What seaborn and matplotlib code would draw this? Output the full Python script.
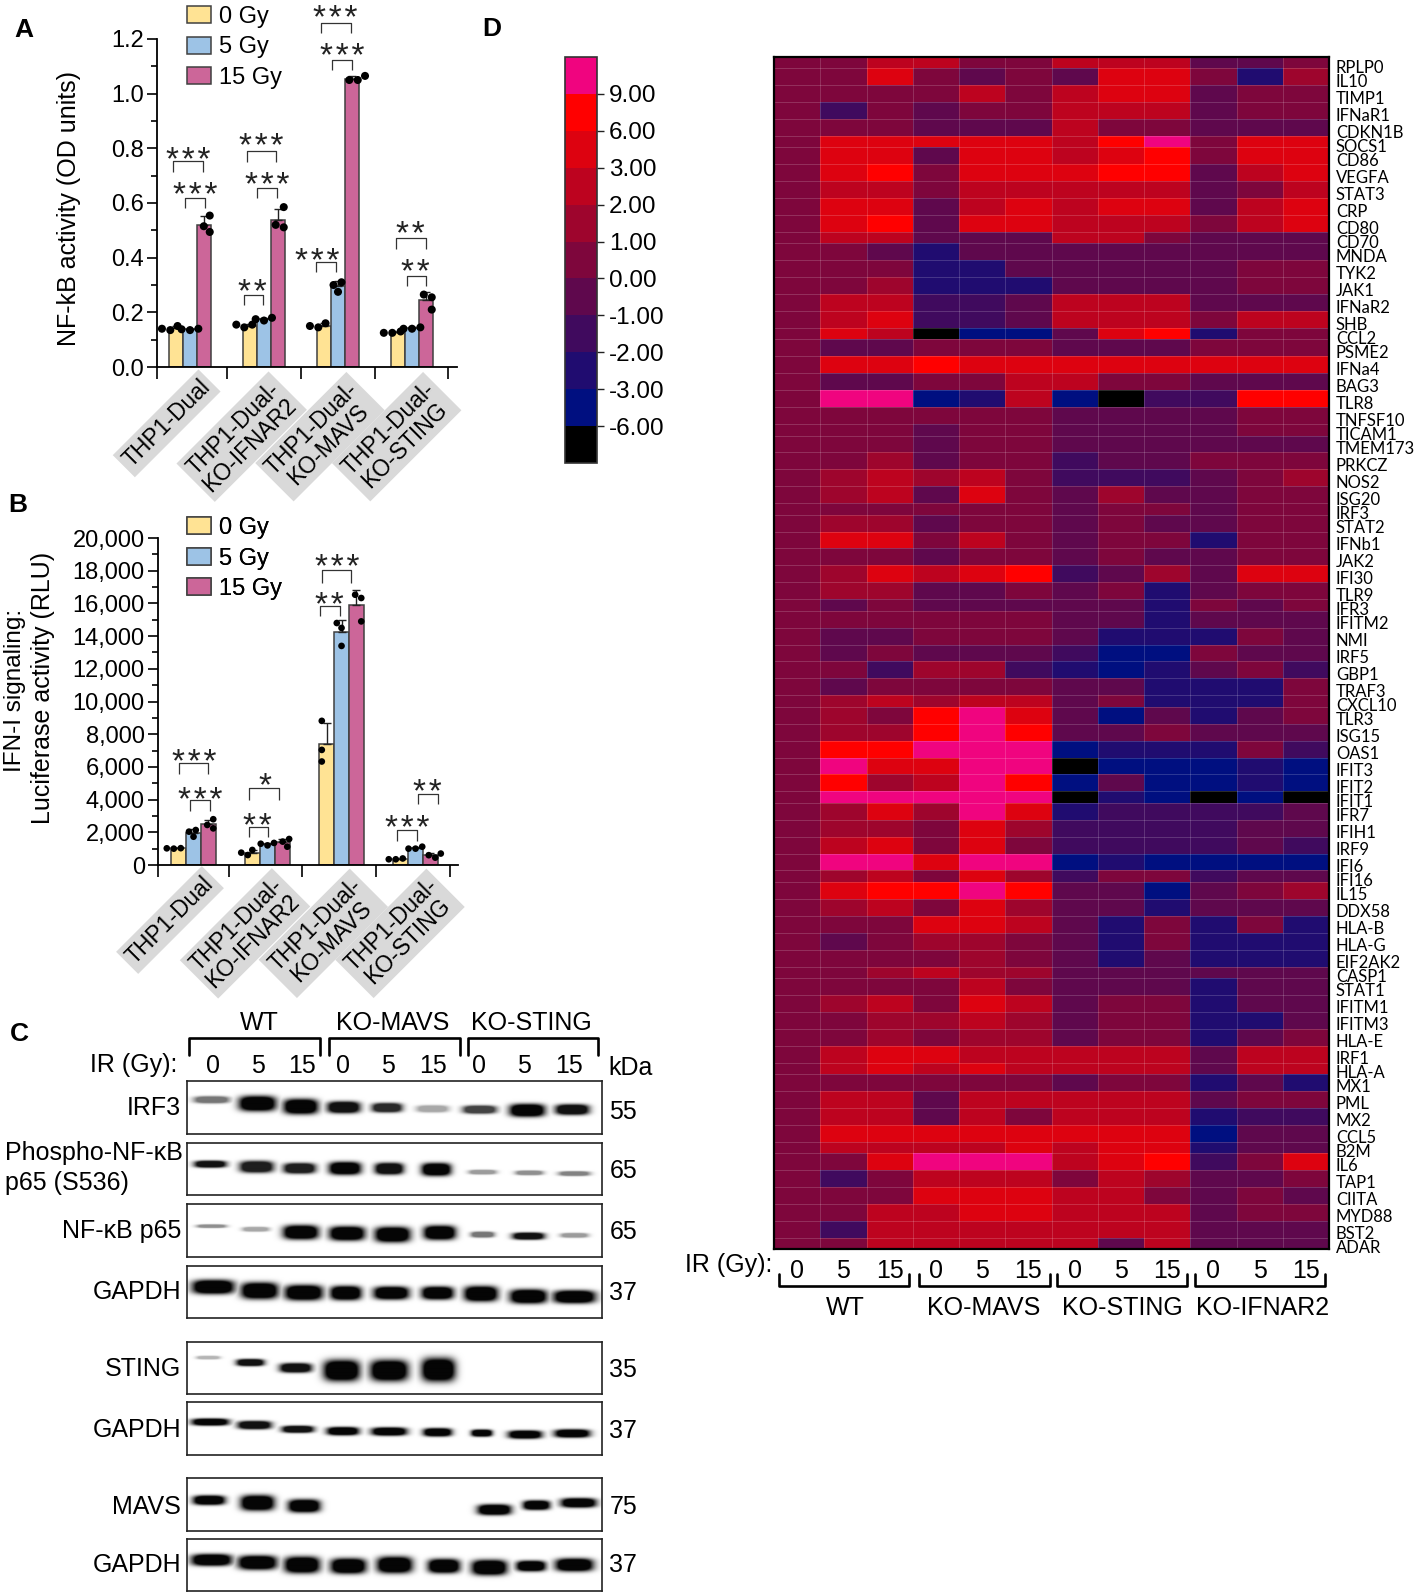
import numpy as np
import pandas as pd
import matplotlib
matplotlib.use("Agg")
import matplotlib.pyplot as plt
from matplotlib.colors import ListedColormap, BoundaryNorm
from matplotlib.ticker import MultipleLocator, FuncFormatter
from matplotlib.transforms import ScaledTranslation
import seaborn as sns

W, H = 1417, 1595
sns.set_theme(style="ticks")
plt.rcParams["font.family"] = ["Liberation Sans", "DejaVu Sans"]
plt.rcParams["axes.unicode_minus"] = False

# ---------- panels A / B data ----------
cell_lines = ["THP1-Dual", "KO-IFNAR2", "KO-MAVS", "KO-STING"]
cell_labels = ["THP1-Dual", "THP1-Dual-\nKO-IFNAR2", "THP1-Dual-\nKO-MAVS", "THP1-Dual-\nKO-STING"]
doses = ["0 Gy", "5 Gy", "15 Gy"]
dose_colors = ["#FFE394", "#9DC3E6", "#CC6699"]

nfkb_0gy = [[.14, .15, .135], [.155, .155, .145], [.16, .15, .145], [.125, .125, .13]]
nfkb_5gy = [[.14, .135, .138], [.175, .17, .18], [.30, .31, .275], [.14, .145, .14]]
nfkb_15gy = [[.554, .515, .494], [.585, .52, .511], [1.05, 1.05, 1.065], [.265, .255, .21]]

rlu_0gy = [[1020, 1000, 1030], [755, 610, 920], [8816, 7040, 6330], [350, 350, 400]]
rlu_5gy = [[2040, 1730, 2140], [1200, 1350, 1300], [14800, 14500, 13400], [1000, 1000, 1120]]
rlu_15gy = [[2450, 2240, 2800], [1430, 1120, 1590], [16530, 16330, 14900], [600, 450, 700]]

S3 = "*\u200a*\u200a*"
S2 = "*\u200a*"
# stars, bracket left, bracket right, bracket top, bracket foot, star x, star y (zoomed pixels)
a_brackets = [(S3, 520, 608, 483, 515, 566, 452), (S3, 556, 614, 594, 625, 585, 558),
              (S3, 740, 828, 453, 485, 783, 412), (S3, 772, 831, 565, 595, 803, 528),
              (S2, 731, 790, 885, 915, 758, 850), (S3, 964, 1052, 68, 100, 1007, 27),
              (S3, 997, 1055, 180, 210, 1026, 142), (S3, 948, 1007, 787, 817, 953, 755),
              (S2, 1189, 1277, 714, 747, 1230, 675), (S2, 1221, 1279, 827, 857, 1247, 790)]
b_brackets = [(S3, 536, 624, 818, 852, 583, 790), (S3, 571, 629, 930, 962, 600, 902),
              ("*", 748, 836, 893, 930, 794, 858), (S2, 746, 804, 1010, 1040, 772, 982),
              (S3, 966, 1054, 240, 278, 1012, 203), (S2, 961, 1019, 347, 377, 988, 318),
              (S2, 1255, 1313, 912, 942, 1282, 878), (S3, 1191, 1250, 1021, 1052, 1223, 988)]

# ---------- panel D data ----------
genes = ["RPLP0", "IL10", "TIMP1", "IFNaR1", "CDKN1B", "SOCS1", "CD86", "VEGFA", "STAT3", "CRP", "CD80",
         "CD70", "MNDA", "TYK2", "JAK1", "IFNaR2", "SHB", "CCL2", "PSME2", "IFNa4", "BAG3", "TLR8",
         "TNFSF10", "TICAM1", "TMEM173", "PRKCZ", "NOS2", "ISG20", "IRF3", "STAT2", "IFNb1", "JAK2",
         "IFI30", "TLR9", "IFR3", "IFITM2", "NMI", "IRF5", "GBP1", "TRAF3", "CXCL10", "TLR3", "ISG15",
         "OAS1", "IFIT3", "IFIT2", "IFIT1", "IFR7", "IFIH1", "IRF9", "IFI6", "IFI16", "IL15", "DDX58",
         "HLA-B", "HLA-G", "EIF2AK2", "CASP1", "STAT1", "IFITM1", "IFITM3", "HLA-E", "IRF1", "HLA-A",
         "MX1", "PML", "MX2", "CCL5", "B2M", "IL6", "TAP1", "CIITA", "MYD88", "BST2", "ADAR"]
# one code per sample: K<-6, B<-3, I<-2, P<-1, M<0, Z<1, C<2, R<3, E<6, F<9, H>9
heat_codes = ["ZZRRZZRRRMMZ", "ZZEZMZMEEZIC", "ZZZZRZREEMZZ", "ZPZMZZRRRMZZ", "ZZZMMMRZZMMM",
              "ZEEEEERFHZEE", "ZEEMEEREFZEE", "ZEFZEEEFFMRE", "ZRRZRRRRRMZR", "ZEEMREREEMRE",
              "ZEFMEERRRZRE", "ZRRMMMRRZMMM", "ZZMIMMMMMMMM", "ZZZIIMMMMMZZ", "ZZCIIIMMMMZZ",
              "ZRRPPMRRRMMM", "ZREPPMRRRZRR", "ZERKBBMEFIZZ", "ZMMZZZMMMZZZ", "ZEEFEEEEEEEE",
              "ZMMZZRRZZMMM", "ZHHBIRBKPPFF", "ZZZZZZMMMMZZ", "ZZZMZZMMMMZZ", "ZZZMZZMMMMMM",
              "ZZCMZZPMMZZZ", "ZCRCRZPPPMZC", "ZCRMEZMCMMZZ", "ZZZZZZMZZMZZ", "ZCCMZZMZMMZZ",
              "ZEEZRZMZZIZZ", "ZZZMZZMZMMZZ", "ZCEREFPMCMEE", "ZCCMMZMZIMZZ", "ZMZMMMMMIZMZ",
              "ZZZZZZMMIMMM", "ZMMZZZMIIIZM", "ZMZMMMPBBZMM", "ZZPCCPIBIMZP", "ZMZZZZMMIIIZ",
              "ZCRCRRMZIIIZ", "ZCZFHEMBMIMZ", "ZCCFHFMMZMMM", "ZFFHHHBIIIZP", "ZHEEHHKBBBIB",
              "ZFCRHFBMBBIB", "ZHHHHHKIBKBK", "ZCECHEIPPPPM", "ZCCZECPPPPMM", "ZREZEZPPPPMP",
              "ZHHEHHBIBBBB", "ZCRZECPZZPMM", "ZEFFHFMMBMZC", "ZCRZECMMIMMM", "ZZZEERMIZIZI",
              "ZMZCCZMIZIII", "ZZZZCZMIMIII", "ZZCRCCMMMMMM", "ZZZZRZMMMIMM", "ZCRZERMZZIMM",
              "ZZCCRCMZZIIM", "ZZCZCCMZZIMZ", "ZREERRRRRMRR", "ZRERERRRRMRR", "ZZZZZZMZZIMI",
              "ZRRMRRRRRMZZ", "ZRRMRZRRRIPP", "ZEEEEEEEEBMM", "ZRRRREREEIMM", "ZZEHHHREFPZE",
              "ZPZRRRZRCMMZ", "ZZZEEERRZMZM", "ZZRREERRRMZZ", "ZPRRRRRRRMMM", "ZZRRRRRMRMMM"]
level_value = {"K": -7, "B": -4, "I": -2.5, "P": -1.5, "M": -.5, "Z": .5, "C": 1.5, "R": 2.5, "E": 4, "F": 7, "H": 10}
# rows are unequal in height in the figure (relative units)
row_units = [2, 3, 3, 3, 3, 2, 3, 3, 3, 3, 3, 2, 3, 3, 3, 3, 3, 2, 3, 3, 3, 3, 3, 2, 3, 3, 3, 3, 2, 3, 3, 3, 3, 3, 2,
             3, 3, 3, 3, 3, 2, 3, 3, 3, 3, 3, 2, 3, 3, 3, 3, 2, 3, 3, 3, 3, 3, 2, 3, 3, 3, 3, 3, 2, 3, 3, 3, 3, 2, 3,
             3, 3, 3, 3, 2]
heat_bounds = [-9, -6, -3, -2, -1, 0, 1, 2, 3, 6, 9, 12]
heat_colors = ["#000000", "#000F80", "#200C70", "#400A5E", "#5F084D", "#7E063C", "#9E052D", "#BD031F",
               "#DD0210", "#FF0000", "#F0047F"]
heat_ticks = [-6, -3, -2, -1, 0, 1, 2, 3, 6, 9]
sample_doses = ["0", "5", "15"] * 4
heat_groups = ["WT", "KO-MAVS", "KO-STING", "KO-IFNAR2"]

# ---------- panel C data: band (centre x, half width, centre y, half height, darkness), zoomed px ----------
blot_rows = [
    ("IRF3", "55", 213, 352, [(503, 42, 262, 6, .55), (612, 44, 272, 13, 1), (715, 41, 280, 13, 1), (817, 39, 282, 10, .95),
                              (920, 36, 283, 8, .85), (1028, 38, 286, 6, .35), (1140, 40, 288, 7, .75), (1253, 42, 290, 11, 1), (1360, 40, 288, 9, .95)]),
    ("", "65", 376, 515, [(500, 38, 434, 6, .95), (610, 40, 441, 10, .9), (712, 38, 445, 9, .9), (820, 38, 445, 11, 1),
                          (925, 34, 446, 10, .95), (1037, 35, 448, 11, 1), (1147, 33, 455, 4, .4), (1258, 33, 457, 4, .45), (1365, 37, 459, 4, .5)]),
    ("NF-κB p65", "65", 538, 678, [(503, 35, 598, 3, .45), (608, 32, 606, 4, .35), (715, 42, 614, 12, 1), (825, 42, 617, 12, 1),
                                   (933, 42, 620, 13, 1), (1045, 38, 615, 12, 1), (1147, 28, 620, 5, .55), (1256, 38, 624, 6, .95), (1365, 33, 622, 4, .4)]),
    ("GAPDH", "37", 700, 838, [(507, 50, 757, 12, 1), (617, 44, 767, 14, 1), (722, 45, 772, 13, 1), (822, 37, 773, 12, 1),
                               (930, 42, 773, 11, 1), (1040, 38, 773, 11, 1), (1143, 40, 775, 13, 1), (1256, 44, 782, 12, 1), (1365, 50, 783, 11, 1)]),
    ("STING", "35", 900, 1038, [(495, 28, 943, 3, .3), (595, 33, 956, 6, .95), (703, 38, 970, 8, .95), (812, 43, 977, 18, 1),
                                (925, 45, 977, 18, 1), (1042, 40, 975, 20, 1)]),
    ("GAPDH", "37", 1060, 1198, [(500, 44, 1112, 6, 1), (605, 40, 1120, 7, .95), (708, 38, 1131, 6, .95), (815, 38, 1136, 7, 1),
                                 (925, 42, 1137, 7, 1), (1040, 34, 1139, 7, 1), (1145, 25, 1141, 6, 1), (1248, 40, 1145, 7, 1), (1360, 42, 1142, 7, 1)]),
    ("MAVS", "75", 1260, 1400, [(497, 38, 1320, 8, 1), (612, 40, 1327, 13, 1), (723, 38, 1335, 11, 1),
                                (1175, 40, 1345, 9, 1), (1275, 32, 1333, 8, 1), (1375, 42, 1327, 8, 1)]),
    ("GAPDH", "37", 1420, 1558, [(503, 48, 1477, 10, 1), (612, 46, 1484, 12, 1), (718, 42, 1490, 14, 1), (828, 42, 1493, 13, 1),
                                 (938, 42, 1490, 14, 1), (1055, 38, 1493, 12, 1), (1163, 42, 1497, 13, 1), (1262, 35, 1493, 9, 1), (1365, 45, 1490, 11, 1)]),
]
blot_label_y = [285, 0, 610, 770, 972, 1132, 1335, 1488]
kda_y = [295, 450, 612, 772, 975, 1135, 1337, 1490]
lane_doses = ["0", "5", "15"] * 3
lane_x = [505, 612, 718, 815, 921, 1028, 1138, 1245, 1352]
blot_groups = ["WT", "KO-MAVS", "KO-STING"]

# ---------- figure ----------
fig = plt.figure(figsize=(W / 100, H / 100), dpi=100, facecolor="white")


def axes_px(l, t, r, b, **kw):
    return fig.add_axes([l / W, 1 - b / H, (r - l) / W, (b - t) / H], **kw)


over = axes_px(0, 0, W, H, zorder=10)
over.set_xlim(0, W)
over.set_ylim(H, 0)
over.axis("off")
over.patch.set_alpha(0)


def bars(ax_box, series, ylim, xlim, cuts, dot_size, bar_width, major, minor):
    ax = axes_px(*ax_box)
    rows = []
    for dose, values in zip(doses, series):
        for line, reps in zip(cell_lines, values):
            rows += [(line, dose, v) for v in reps]
    df = pd.DataFrame(rows, columns=["line", "dose", "value"])
    sns.barplot(data=df, x="line", y="value", hue="dose", order=cell_lines, hue_order=doses,
                palette=dose_colors, errorbar=None, width=bar_width, gap=0, saturation=1,
                edgecolor="#404040", linewidth=1.1, legend=False, ax=ax)
    ax.set_xlim(*xlim)
    ax.set_ylim(*ylim)
    for dose, container in zip(doses, ax.containers):
        stats = df[df.dose == dose].groupby("line", sort=False).value
        xs = [p.get_x() + p.get_width() / 2 for p in container]
        ax.errorbar(xs, stats.mean().values, yerr=[np.zeros(4), stats.std().values], fmt="none",
                    ecolor="#222222", elinewidth=1, capsize=3, capthick=1, zorder=3)
    n0 = len(ax.collections)
    sns.swarmplot(data=df, x="line", y="value", hue="dose", order=cell_lines, hue_order=doses,
                  dodge=True, size=dot_size, palette=["black"] * 3, legend=False, zorder=4, ax=ax)
    step_old = .8 / 3
    step_new = bar_width / 3
    for coll in ax.collections[n0:]:
        off = coll.get_offsets()
        if len(off):
            group = np.round(off[:, 0].mean())
            idx = np.round((off[:, 0].mean() - group) / step_old)
            old_c = group + idx * step_old
            off[:, 0] = group + idx * step_new + (off[:, 0] - old_c) * .62
            coll.set_offsets(off)
    ax.set_xlim(*xlim)
    ax.set_ylim(*ylim)
    ax.set_xticks(cuts)
    ax.set_xticklabels([])
    ax.set_xlabel("")
    ax.set_ylabel("")
    ax.yaxis.set_major_locator(MultipleLocator(major))
    ax.yaxis.set_minor_locator(MultipleLocator(minor))
    ax.tick_params(axis="x", length=8.5, width=1.2, color="black")
    ax.tick_params(axis="y", which="major", length=7.5, width=1.2, labelsize=17, colors="black", pad=2)
    ax.tick_params(axis="y", which="minor", length=4, width=1.2, color="black")
    sns.despine(ax=ax)
    for s in ("left", "bottom"):
        ax.spines[s].set_linewidth(1.3)
        ax.spines[s].set_color("black")
    ax.patch.set_alpha(0)
    return ax


ax_a = bars((157, 39, 457, 367), [nfkb_0gy, nfkb_5gy, nfkb_15gy], (0, 1.2), (-.446, 3.608),
            [-.446, .5, 1.5, 2.5, 3.486], 5.8, .58, .2, .1)
ax_a.yaxis.set_major_formatter(FuncFormatter(lambda v, _: f"{v:.1f}"))
ax_b = bars((158, 538, 458, 865), [rlu_0gy, rlu_5gy, rlu_15gy], (0, 20000), (-.48, 3.574),
            [-.48, .48, 1.47, 2.47, 3.47], 4.8, .6, 2000, 1000)
ax_b.yaxis.set_major_formatter(FuncFormatter(lambda v, _: f"{int(v):,}"))

for letter, x, y in (("A", 24, 30), ("B", 18, 505), ("C", 19, 1034), ("D", 492, 29)):
    over.text(x, y, letter, fontsize=19, fontweight="bold", ha="center", va="center", color="black")

over.text(69, 208, "NF-kB activity (OD units)", rotation=90, fontsize=18, ha="center", va="center", color="black")
over.text(15, 690, "IFN-I signaling:", rotation=90, fontsize=17.5, ha="center", va="center", color="black")
over.text(43, 688, "Luciferase activity (RLU)", rotation=90, fontsize=18, ha="center", va="center", color="black")

for ax, top, pitch in ((ax_a, 6, .36), (ax_b, 517, .36)):
    handles = [c[0] for c in ax.containers]
    over.legend(handles, doses, loc="upper left", bbox_to_anchor=(187, top), bbox_transform=over.transData,
                frameon=False, fontsize=17, borderpad=0, borderaxespad=0, handlelength=1.0, handleheight=.76,
                handletextpad=.35, labelspacing=pitch, labelcolor="black")
    over.add_artist(over.get_legend())

for centers, y in (([500, 725, 960, 1190], 1270), ([510, 735, 970, 1200], 2760)):
    for cx, label in zip(centers, cell_labels):
        yy = y if "\n" not in label else y + 40
        over.text(cx / 3, yy / 3, label, rotation=45, rotation_mode="anchor", fontsize=16.5, ha="center", va="center",
                  linespacing=1.0, color="black", multialignment="center",
                  bbox=dict(facecolor="#D9D9D9", edgecolor="none", pad=3), zorder=1)

for items, dy in ((a_brackets, 0), (b_brackets, 490)):
    for stars, x0, x1, top, foot, sx, sy in items:
        over.plot([x0 / 3, x0 / 3, x1 / 3, x1 / 3], [foot / 3 + dy, top / 3 + dy, top / 3 + dy, foot / 3 + dy],
                  color="#333333", lw=.9, solid_capstyle="butt")
        over.text(sx / 3, sy / 3 + dy + 19, stars, fontsize=24, ha="center", va="baseline", color="#222222")

# ---------- panel C ----------
SX, SY = 2.376, 2.635
bx = lambda v: v / SX
by = lambda v: 1000 + v / SY

for label, kda, top, bot, row_bands, ly, ky in zip(*[[r[i] for r in blot_rows] for i in range(5)], blot_label_y, kda_y):
    x0, x1 = bx(445), bx(1430)
    t, b = by(top), by(bot)
    ax = axes_px(x0, t, x1, b)
    xx, yy = np.meshgrid(np.linspace(x0, x1, 830), np.linspace(t, b, 120))
    dark = np.zeros_like(xx)
    for cx, hw, cy, hh, d in row_bands:
        band = np.exp(-np.abs((xx - bx(cx)) / (bx(hw) * .98)) ** 3.6 - np.abs((yy - by(cy)) / (hh / SY * 1.5)) ** 3)
        dark = np.maximum(dark, d * np.minimum(1, 1.7 * band))
    ax.imshow(1 - dark * .98, cmap="gray", vmin=0, vmax=1, aspect="auto", interpolation="bilinear")
    ax.set_xticks([])
    ax.set_yticks([])
    for s in ax.spines.values():
        s.set_linewidth(1.2)
        s.set_color("#222222")
    if label:
        over.text(181, by(ly), label, fontsize=18, ha="right", va="center", color="black")
    over.text(bx(1448), by(ky), kda, fontsize=18, ha="left", va="center", color="black")

over.text(5, by(403), "Phospho-NF-κB", fontsize=18, ha="left", va="center", color="black")
over.text(5, by(482), "p65 (S536)", fontsize=18, ha="left", va="center", color="black")
over.text(bx(422), by(170), "IR (Gy):", fontsize=18, ha="right", va="center", color="black")
over.text(bx(1445), by(178), "kDa", fontsize=18, ha="left", va="center", color="black")
for x, d in zip(lane_x, lane_doses):
    over.text(bx(x), by(175), d, fontsize=18, ha="center", va="center", color="black")
for name, cx, (x0, x1) in zip(blot_groups, [615, 932, 1262], [(450, 760), (782, 1092), (1112, 1420)]):
    over.text(bx(cx), by(60), name, fontsize=18, ha="center", va="center", color="black")
    over.plot([bx(x0), bx(x0), bx(x1), bx(x1)], [by(145), by(100), by(100), by(145)], color="black", lw=1.9,
              solid_joinstyle="round")

# ---------- panel D ----------
values = np.array([[level_value[c] for c in row] for row in heat_codes], dtype=float)
assert values.shape[0] == len(genes) == len(row_units)
stretched = np.repeat(values, row_units, axis=0)
edges = np.concatenate([[0], np.cumsum(row_units)])
ax_h = axes_px(774, 57, 1329, 1249)
cax = axes_px(564.5, 57, 596.5, 463)
norm = BoundaryNorm(heat_bounds, len(heat_colors))
sns.heatmap(pd.DataFrame(stretched), cmap=ListedColormap(heat_colors), norm=norm, ax=ax_h, cbar_ax=cax,
            xticklabels=sample_doses, yticklabels=False,
            cbar_kws=dict(ticks=heat_ticks, spacing="uniform", format="%.2f"))
ax_h.hlines(edges[1:-1], 0, 12, color="white", alpha=.2, lw=.6)
ax_h.vlines(np.arange(1, 12), 0, edges[-1], color="white", alpha=.2, lw=.6)
ax_h.set_yticks((edges[:-1] + edges[1:]) / 2)
ax_h.set_yticklabels(genes, rotation=0, fontsize=12, fontfamily="Lato", color="black")
ax_h.yaxis.tick_right()
ax_h.tick_params(axis="y", length=0, pad=5)
shift = ScaledTranslation(0, -2.5 / 72, fig.dpi_scale_trans)
for tl in ax_h.get_yticklabels():
    tl.set_transform(tl.get_transform() + shift)
ax_h.tick_params(axis="x", length=0, pad=7, labelsize=18, labelcolor="black", rotation=0)
for s in ax_h.spines.values():
    s.set_visible(True)
    s.set_linewidth(1.6)
    s.set_color("black")
cbar = ax_h.collections[0].colorbar
cbar.ax.tick_params(labelsize=17.5, length=5, width=1, color="#222222", labelcolor="black", pad=4)
cbar.outline.set_linewidth(1.2)
cbar.outline.set_edgecolor("#333333")
cbar.ax.minorticks_off()

over.text(772, 1265, "IR (Gy):", fontsize=18, ha="right", va="center", color="black")
for name, cx, (x0, x1) in zip(heat_groups, [845, 984, 1122, 1263], [(779, 909), (919, 1050), (1057, 1187), (1195, 1325)]):
    over.text(cx, 1308, name, fontsize=18, ha="center", va="center", color="black")
    over.plot([x0, x0, x1, x1], [1274, 1286, 1286, 1274], color="black", lw=1.9, solid_joinstyle="round")

over.set_xlim(0, W)
over.set_ylim(H, 0)
fig.savefig("out.png", dpi=100, facecolor="white")
